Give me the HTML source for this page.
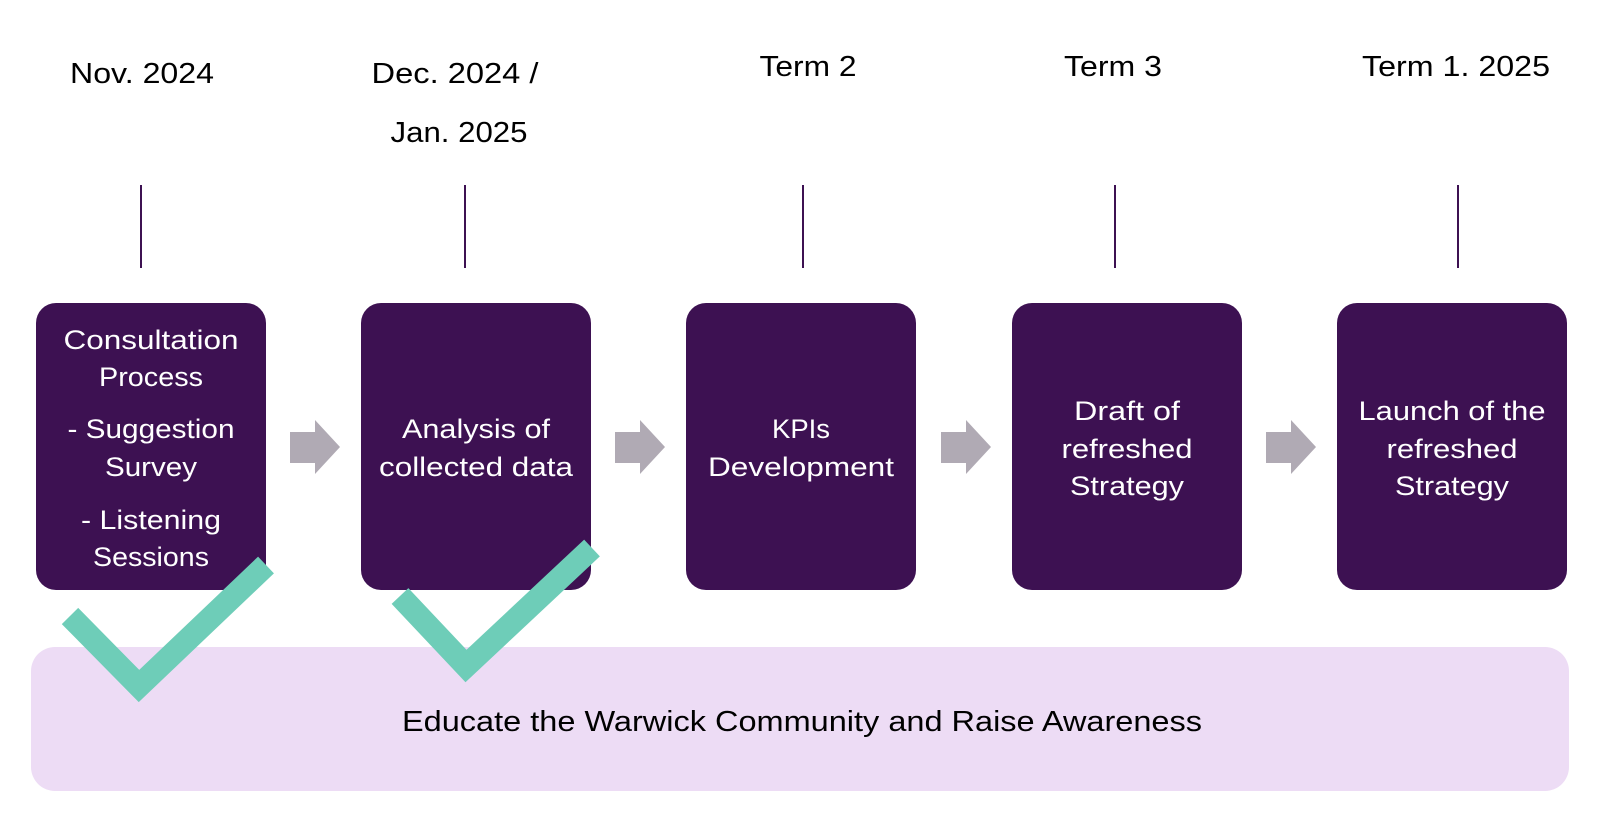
<!DOCTYPE html>
<html><head><meta charset="utf-8"><style>
html,body{margin:0;padding:0;background:#fff;}
svg{display:block;}
text{font-family:"Liberation Sans",sans-serif;}
</style></head><body>
<svg width="1612" height="820" viewBox="0 0 1612 820" xmlns="http://www.w3.org/2000/svg">
<rect x="0" y="0" width="1612" height="820" fill="#fff"/>
<g font-size="29" fill="#000" text-anchor="middle">
<text x="142" y="83" textLength="144" lengthAdjust="spacingAndGlyphs">Nov. 2024</text>
<text x="455" y="83" textLength="167" lengthAdjust="spacingAndGlyphs">Dec. 2024 /</text>
<text x="459" y="142" textLength="137" lengthAdjust="spacingAndGlyphs">Jan. 2025</text>
<text x="808" y="76" textLength="97" lengthAdjust="spacingAndGlyphs">Term 2</text>
<text x="1113" y="76" textLength="98" lengthAdjust="spacingAndGlyphs">Term 3</text>
<text x="1456" y="76" textLength="188" lengthAdjust="spacingAndGlyphs">Term 1. 2025</text>
</g>
<g stroke="#3d1152" stroke-width="2">
<line x1="141" y1="185" x2="141" y2="268"/>
<line x1="465" y1="185" x2="465" y2="268"/>
<line x1="803" y1="185" x2="803" y2="268"/>
<line x1="1115" y1="185" x2="1115" y2="268"/>
<line x1="1458" y1="185" x2="1458" y2="268"/>
</g>
<rect x="31" y="647" width="1538" height="144" rx="24" fill="#eddcf5"/>
<text x="802" y="731" font-size="29" fill="#000" text-anchor="middle" textLength="800" lengthAdjust="spacingAndGlyphs">Educate the Warwick Community and Raise Awareness</text>
<g fill="#3d1152">
<rect x="36" y="303" width="230" height="287" rx="20"/>
<rect x="361" y="303" width="230" height="287" rx="20"/>
<rect x="686" y="303" width="230" height="287" rx="20"/>
<rect x="1012" y="303" width="230" height="287" rx="20"/>
<rect x="1337" y="303" width="230" height="287" rx="20"/>
</g>
<g fill="#b0aab4">
<polygon points="290,432 315,432 315,420 340,447 315,474 315,463 290,463"/>
<polygon points="615,432 640,432 640,420 665,447 640,474 640,463 615,463"/>
<polygon points="941,432 966,432 966,420 991,447 966,474 966,463 941,463"/>
<polygon points="1266,432 1291,432 1291,420 1316,447 1291,474 1291,463 1266,463"/>
</g>
<g font-size="27" fill="#fff" text-anchor="middle">
<text x="151" y="349" textLength="175" lengthAdjust="spacingAndGlyphs">Consultation</text>
<text x="151" y="386" textLength="104" lengthAdjust="spacingAndGlyphs">Process</text>
<text x="151" y="438" textLength="167" lengthAdjust="spacingAndGlyphs">- Suggestion</text>
<text x="151" y="476" textLength="92" lengthAdjust="spacingAndGlyphs">Survey</text>
<text x="151" y="529" textLength="140" lengthAdjust="spacingAndGlyphs">- Listening</text>
<text x="151" y="566" textLength="116" lengthAdjust="spacingAndGlyphs">Sessions</text>
<text x="476" y="438" textLength="148" lengthAdjust="spacingAndGlyphs">Analysis of</text>
<text x="476" y="476" textLength="194" lengthAdjust="spacingAndGlyphs">collected data</text>
<text x="801" y="438" textLength="58" lengthAdjust="spacingAndGlyphs">KPIs</text>
<text x="801" y="476" textLength="186" lengthAdjust="spacingAndGlyphs">Development</text>
<text x="1127" y="420" textLength="106" lengthAdjust="spacingAndGlyphs">Draft of</text>
<text x="1127" y="458" textLength="131" lengthAdjust="spacingAndGlyphs">refreshed</text>
<text x="1127" y="495" textLength="114" lengthAdjust="spacingAndGlyphs">Strategy</text>
<text x="1452" y="420" textLength="187" lengthAdjust="spacingAndGlyphs">Launch of the</text>
<text x="1452" y="458" textLength="131" lengthAdjust="spacingAndGlyphs">refreshed</text>
<text x="1452" y="495" textLength="114" lengthAdjust="spacingAndGlyphs">Strategy</text>
</g>
<g fill="none" stroke="#6ecdb8" stroke-width="23" stroke-linejoin="miter">
<polyline points="70,616 139,686 266,565"/>
<polyline points="400,596 466,666 592,548"/>
</g>
</svg>
</body></html>
